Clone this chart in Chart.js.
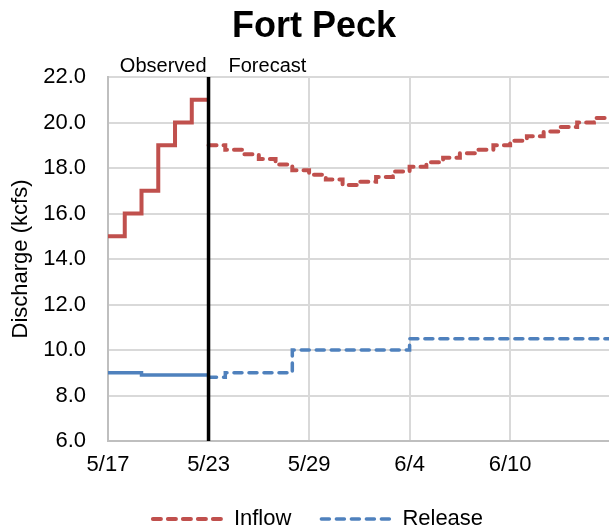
<!DOCTYPE html>
<html><head><meta charset="utf-8">
<script src="https://cdn.jsdelivr.net/npm/chart.js@4/dist/chart.umd.min.js"></script>
<style>html,body{margin:0;padding:0;background:#fff}</style>
</head><body>
<canvas id="c" width="609" height="532"></canvas>
<script>
// ---- data ----
const chartTitle = 'Fort Peck';
const yAxisTitle = 'Discharge (kcfs)';
const observedLabel = 'Observed';
const forecastLabel = 'Forecast';
const seriesNames = ['Inflow', 'Release'];
const observedDays = [0, 1, 2, 3, 4, 5];
const inflowObserved = [15, 16, 17, 19, 20, 21];
const releaseObserved = [9.0, 9.0, 8.9, 8.9, 8.9, 8.9];
const forecastDays = [6, 7, 8, 9, 10, 11, 12, 13, 14, 15, 16, 17, 18, 19, 20, 21, 22, 23, 24, 25, 26, 27, 28, 29];
const inflowForecast = [19.0, 18.8, 18.6, 18.4, 18.15, 17.9, 17.7, 17.5, 17.25, 17.4, 17.6, 17.85, 18.05, 18.25, 18.45, 18.65, 18.8, 19.0, 19.2, 19.4, 19.6, 19.8, 20.0, 20.2];
const releaseForecast = [8.8, 9.0, 9.0, 9.0, 9.0, 10.0, 10.0, 10.0, 10.0, 10.0, 10.0, 10.0, 10.5, 10.5, 10.5, 10.5, 10.5, 10.5, 10.5, 10.5, 10.5, 10.5, 10.5, 10.5];
const xTickDays = [0, 6, 12, 18, 24];
const xTickLabels = ['5/17', '5/23', '5/29', '6/4', '6/10'];
const yTicks = [6, 8, 10, 12, 14, 16, 18, 20, 22];
const forecastStartDay = 6;
const xEndDay = 29.9;

// ---- styles ----
const FONT = "'Liberation Sans', Arial, sans-serif";
const RED = '#C0504D';
const BLUE = '#4F81BD';
const DASH = [8, 7];

function stepPoints(days, vals, endDay) {
  const pts = days.map((d, i) => ({x: d, y: vals[i]}));
  pts.push({x: endDay, y: vals[vals.length - 1]});
  return pts;
}

const yMin = yTicks[0], yMax = yTicks[yTicks.length - 1];

const datasets = [
  {label: 'marker', data: [{x: forecastStartDay, y: yMin}, {x: forecastStartDay, y: yMax}],
   borderColor: '#000', borderWidth: 3.5, pointRadius: 0, order: 0, clip: false},
  {label: seriesNames[0] + ' obs', data: stepPoints(observedDays, inflowObserved, forecastStartDay),
   borderColor: RED, borderWidth: 4, stepped: 'before', pointRadius: 0, order: 1},
  {label: seriesNames[0], legend: true, data: stepPoints(forecastDays, inflowForecast, xEndDay),
   borderColor: RED, borderWidth: 4, borderDash: DASH, borderCapStyle: 'round', stepped: 'before', pointRadius: 0, order: 1},
  {label: seriesNames[1] + ' obs', data: stepPoints(observedDays, releaseObserved, forecastStartDay),
   borderColor: BLUE, borderWidth: 3.5, stepped: 'before', pointRadius: 0, order: 1},
  {label: seriesNames[1], legend: true, data: stepPoints(forecastDays, releaseForecast, xEndDay),
   borderColor: BLUE, borderWidth: 3.5, borderDash: DASH, borderCapStyle: 'round', stepped: 'before', pointRadius: 0, order: 1}
];

const textPlugin = {
  id: 'texts',
  afterDraw(chart) {
    const ctx = chart.ctx;
    const xs = chart.scales.x;
    const lx = xs.getPixelForValue(forecastStartDay);
    ctx.save();
    ctx.fillStyle = '#000';
    ctx.textBaseline = 'alphabetic';
    ctx.font = "bold 36px " + FONT;
    ctx.textAlign = 'center';
    ctx.fillText(chartTitle, 314, 37);
    ctx.font = "20px " + FONT;
    ctx.textAlign = 'right';
    ctx.fillText(observedLabel, lx - 2, 72);
    ctx.textAlign = 'left';
    ctx.fillText(forecastLabel, lx + 20, 72);
    ctx.restore();
  }
};

new Chart(document.getElementById('c'), {
  type: 'line',
  data: {datasets},
  plugins: [textPlugin],
  options: {
    responsive: false, animation: false, devicePixelRatio: 1,
    layout: {padding: {top: 77, left: 27, right: 0, bottom: -8}},
    scales: {
      x: {
        type: 'linear', min: 0, max: xEndDay,
        afterBuildTicks: s => { s.ticks = xTickDays.map(v => ({value: v})); },
        afterFit: s => { s.height = 37; },
        ticks: {callback: v => xTickLabels[xTickDays.indexOf(v)], color: '#000', font: {family: FONT, size: 22}, padding: 11, maxRotation: 0, autoSkip: false},
        grid: {color: '#d9d9d9', lineWidth: 2, drawTicks: false},
        border: {color: '#bfbfbf', width: 2}
      },
      y: {
        min: yMin, max: yMax,
        afterBuildTicks: s => { s.ticks = yTicks.map(v => ({value: v})); },
        afterFit: s => { s.width = 81; },
        ticks: {callback: v => v.toFixed(1), color: '#000', font: {family: FONT, size: 22}, padding: 22},
        title: {display: true, text: yAxisTitle, color: '#000', font: {family: FONT, size: 22}, padding: {top: -19, bottom: 0}},
        grid: {color: '#d9d9d9', lineWidth: 2, drawTicks: false},
        border: {color: '#bfbfbf', width: 2}
      }
    },
    plugins: {
      tooltip: {enabled: false},
      legend: {
        position: 'bottom',
        labels: {
          usePointStyle: true, pointStyleWidth: 70, padding: 30,
          color: '#000', font: {family: FONT, size: 22},
          generateLabels: chart => chart.data.datasets
            .map((d, i) => ({d, i}))
            .filter(o => o.d.legend)
            .map(o => ({text: o.d.label, strokeStyle: o.d.borderColor, fillStyle: o.d.borderColor,
              lineWidth: o.d.borderWidth, lineDash: o.d.borderDash, lineCap: 'round',
              pointStyle: 'line', hidden: false, datasetIndex: o.i, fontColor: '#000'}))
        }
      }
    }
  }
});
</script>
</body></html>
